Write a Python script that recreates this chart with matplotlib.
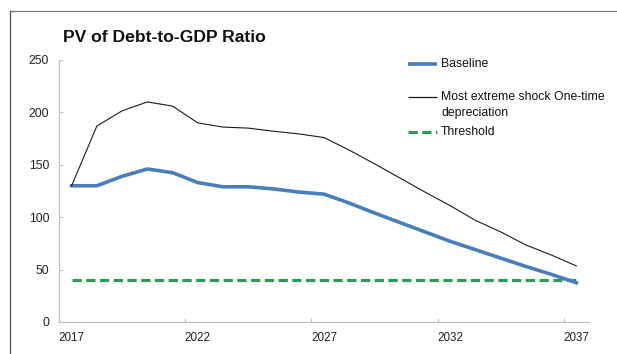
import matplotlib
matplotlib.use("Agg")
import matplotlib.pyplot as plt
from matplotlib.lines import Line2D

plt.rcParams['font.family'] = ['Liberation Sans', 'DejaVu Sans']

years = list(range(2017, 2038))
baseline = [130, 130, 139, 146, 142.5, 133, 129, 129, 127, 124, 122,
            113.5, 104, 95, 86, 77, 69, 61, 53, 45.5, 37.5]
shock = [130, 187, 201.5, 210, 206, 190, 186, 185, 182, 179.5, 176,
         164, 151, 137.5, 124, 111, 97, 86, 73.5, 64, 53.5]
threshold = [40] * 21
xtick_labels = ['2017', '2022', '2027', '2032', '2037']
yticks = [0, 50, 100, 150, 200, 250]

W, H = 617, 354
fig = plt.figure(figsize=(W / 100, H / 100), dpi=100)
ax = fig.add_axes([59 / W, 1 - 322 / H, 530 / W, 262 / H])

idx = list(range(len(years)))
c_base = '#4a7ebb'
c_thr = '#2e9a58'
c_shock = '#1a1a1a'
ax.plot(idx, threshold, color=c_thr, lw=2.3, dashes=(2.9, 1.4), solid_capstyle='butt')
ax.plot(idx, baseline, color=c_base, lw=2.6, solid_joinstyle='round')
ax.plot(idx, shock, color=c_shock, lw=0.8)

ax.set_xlim(-0.5, len(years) - 0.5)
ax.set_ylim(0, 250)
ax.set_yticks(yticks)
ax.set_yticklabels([str(v) for v in yticks])
# ticks at category boundaries every 5 years, labels at category positions
ax.set_xticks([-0.5 + 5 * k for k in range(5)])
ax.set_xticklabels([])
for lab in xtick_labels:
    i = years.index(int(lab))
    ax.text(i, -0.037, lab, transform=ax.get_xaxis_transform(),
            ha='center', va='top', fontsize=8.4, color='#222222')

for s in ['top', 'right']:
    ax.spines[s].set_visible(False)
for s in ['left', 'bottom']:
    ax.spines[s].set_color('#c0c0c0')
    ax.spines[s].set_linewidth(0.9)
ax.tick_params(axis='both', direction='in', length=3, color='#c0c0c0',
               labelsize=8.8, labelcolor='#222222')
ax.tick_params(axis='y', pad=7)

# title
fig.text(63 / W, 1 - 38 / H, 'PV of Debt-to-GDP Ratio', fontsize=12.6,
         fontweight='bold', ha='left', va='center', color='#111111')

# legend (drawn manually)
tr = fig.transFigure
def leg(y, color, lw, dashes=None):
    ln = Line2D([408 / W, 437 / W], [1 - y / H, 1 - y / H], transform=tr,
                color=color, lw=lw, solid_capstyle='butt')
    if dashes:
        ln.set_dashes(dashes)
    fig.add_artist(ln)

fs_leg = 8.8
leg(64, c_base, 2.6)
fig.text(441 / W, 1 - 64 / H, 'Baseline', fontsize=fs_leg, ha='left', va='center', color='#111111')
leg(97, c_shock, 0.9)
fig.text(441 / W, 1 - 97 / H, 'Most extreme shock One-time', fontsize=fs_leg, ha='left', va='center', color='#111111')
fig.text(441 / W, 1 - 113 / H, 'depreciation', fontsize=fs_leg, ha='left', va='center', color='#111111')
leg(132, c_thr, 2.3, (2.9, 1.4))
fig.text(441 / W, 1 - 132 / H, 'Threshold', fontsize=fs_leg, ha='left', va='center', color='#111111')

# outer frame (top and left)
fig.add_artist(Line2D([10.5 / W, 1], [1 - 10.5 / H, 1 - 10.5 / H], transform=tr, color='#777777', lw=0.9))
fig.add_artist(Line2D([10.5 / W, 10.5 / W], [0, 1 - 10.5 / H], transform=tr, color='#555555', lw=0.9))

fig.savefig('out.png', dpi=100)
